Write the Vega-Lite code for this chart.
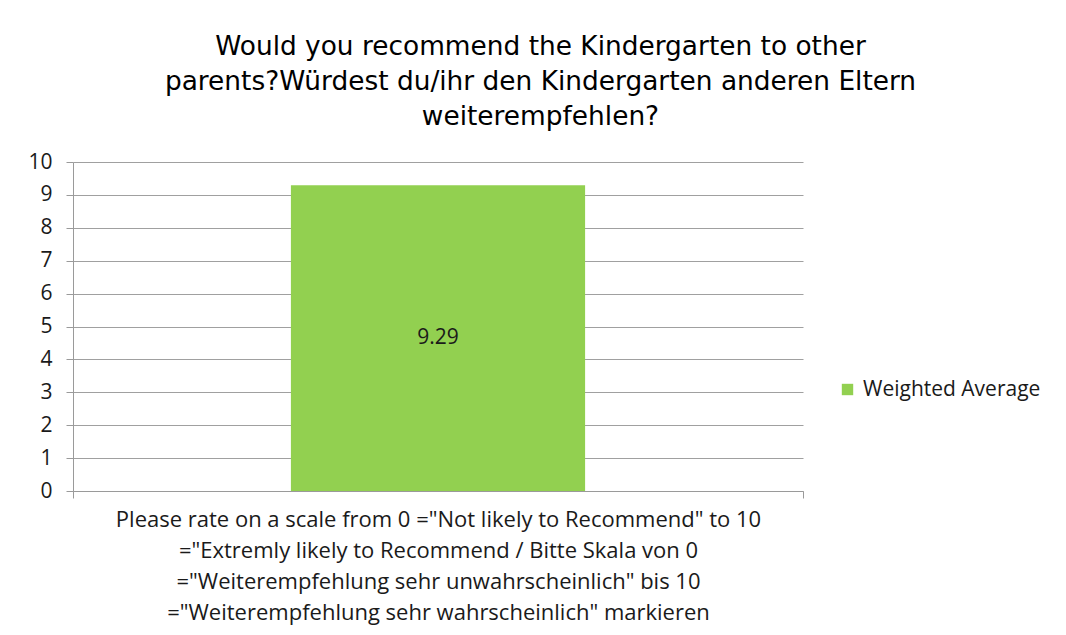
{
  "$schema": "https://vega.github.io/schema/vega-lite/v6.json",
  "width": 730,
  "height": 329,
  "autosize": {"type": "none"},
  "padding": {"left": 73, "top": 162, "right": 263, "bottom": 144},
  "background": "white",
  "title": {
    "text": ["Would you recommend the Kindergarten to other", "parents?Würdest du/ihr den Kindergarten anderen Eltern", "weiterempfehlen?"],
    "font": "DejaVu Sans",
    "fontSize": 26.4,
    "fontWeight": "normal",
    "color": "#000000",
    "anchor": "middle",
    "frame": "bounds",
    "lineHeight": 35,
    "offset": 21,
    "dx": 6
  },
  "config": {
    "view": {"stroke": null},
    "font": "Open Sans",
    "axisY": {
      "labelOverlap": false,
      "grid": true,
      "gridColor": "#a0a0a0",
      "domainColor": "#9a9a9a",
      "tickColor": "#9a9a9a",
      "tickSize": 7,
      "labelFont": "Open Sans",
      "labelFontSize": 21,
      "labelColor": "#1a1a1a",
      "labelPadding": 14
    }
  },
  "data": {
    "values": [
      {"category": "rating", "series": "Weighted Average", "value": 9.29}
    ]
  },
  "transform": [{"calculate": "datum.value / 2", "as": "labelPos"}],
  "encoding": {
    "x": {
      "field": "category",
      "type": "nominal",
      "scale": {"paddingInner": 0, "paddingOuter": 0},
      "axis": {
        "labels": false,
        "tickBand": "extent",
        "tickSize": 7,
        "tickColor": "#9a9a9a",
        "domainColor": "#9a9a9a",
        "title": ["Please rate on a scale from 0 =\"Not likely to Recommend\" to 10", "=\"Extremly likely to Recommend / Bitte Skala von 0", "=\"Weiterempfehlung sehr unwahrscheinlich\"  bis 10", "=\"Weiterempfehlung sehr wahrscheinlich\" markieren"],
        "titleFont": "Open Sans",
        "titleFontSize": 22,
        "titleFontWeight": "normal",
        "titleColor": "#1a1a1a",
        "titleLineHeight": 31,
        "titlePadding": 11
      }
    }
  },
  "layer": [
    {
      "mark": {"type": "bar", "width": {"band": 0.403}},
      "encoding": {
        "y": {
          "field": "value",
          "type": "quantitative",
          "scale": {"domain": [0, 10]},
          "axis": {"values": [0, 1, 2, 3, 4, 5, 6, 7, 8, 9, 10], "title": null}
        },
        "color": {
          "field": "series",
          "type": "nominal",
          "scale": {"range": ["#92d050"]},
          "legend": {
            "title": null,
            "orient": "none",
            "legendX": 764,
            "legendY": 217,
            "symbolType": "square",
            "symbolSize": 130,
            "symbolStrokeWidth": 0,
            "labelFont": "Open Sans",
            "labelFontSize": 21,
            "labelColor": "#1a1a1a",
            "labelOffset": 5,
            "labelLimit": 0
          }
        }
      }
    },
    {
      "mark": {"type": "text", "font": "Open Sans", "fontSize": 21, "color": "#1a1a1a", "baseline": "middle"},
      "encoding": {
        "y": {"field": "labelPos", "type": "quantitative", "axis": {"values": [0, 1, 2, 3, 4, 5, 6, 7, 8, 9, 10], "title": null}},
        "text": {"field": "value", "type": "quantitative", "format": ".2f"}
      }
    }
  ]
}
